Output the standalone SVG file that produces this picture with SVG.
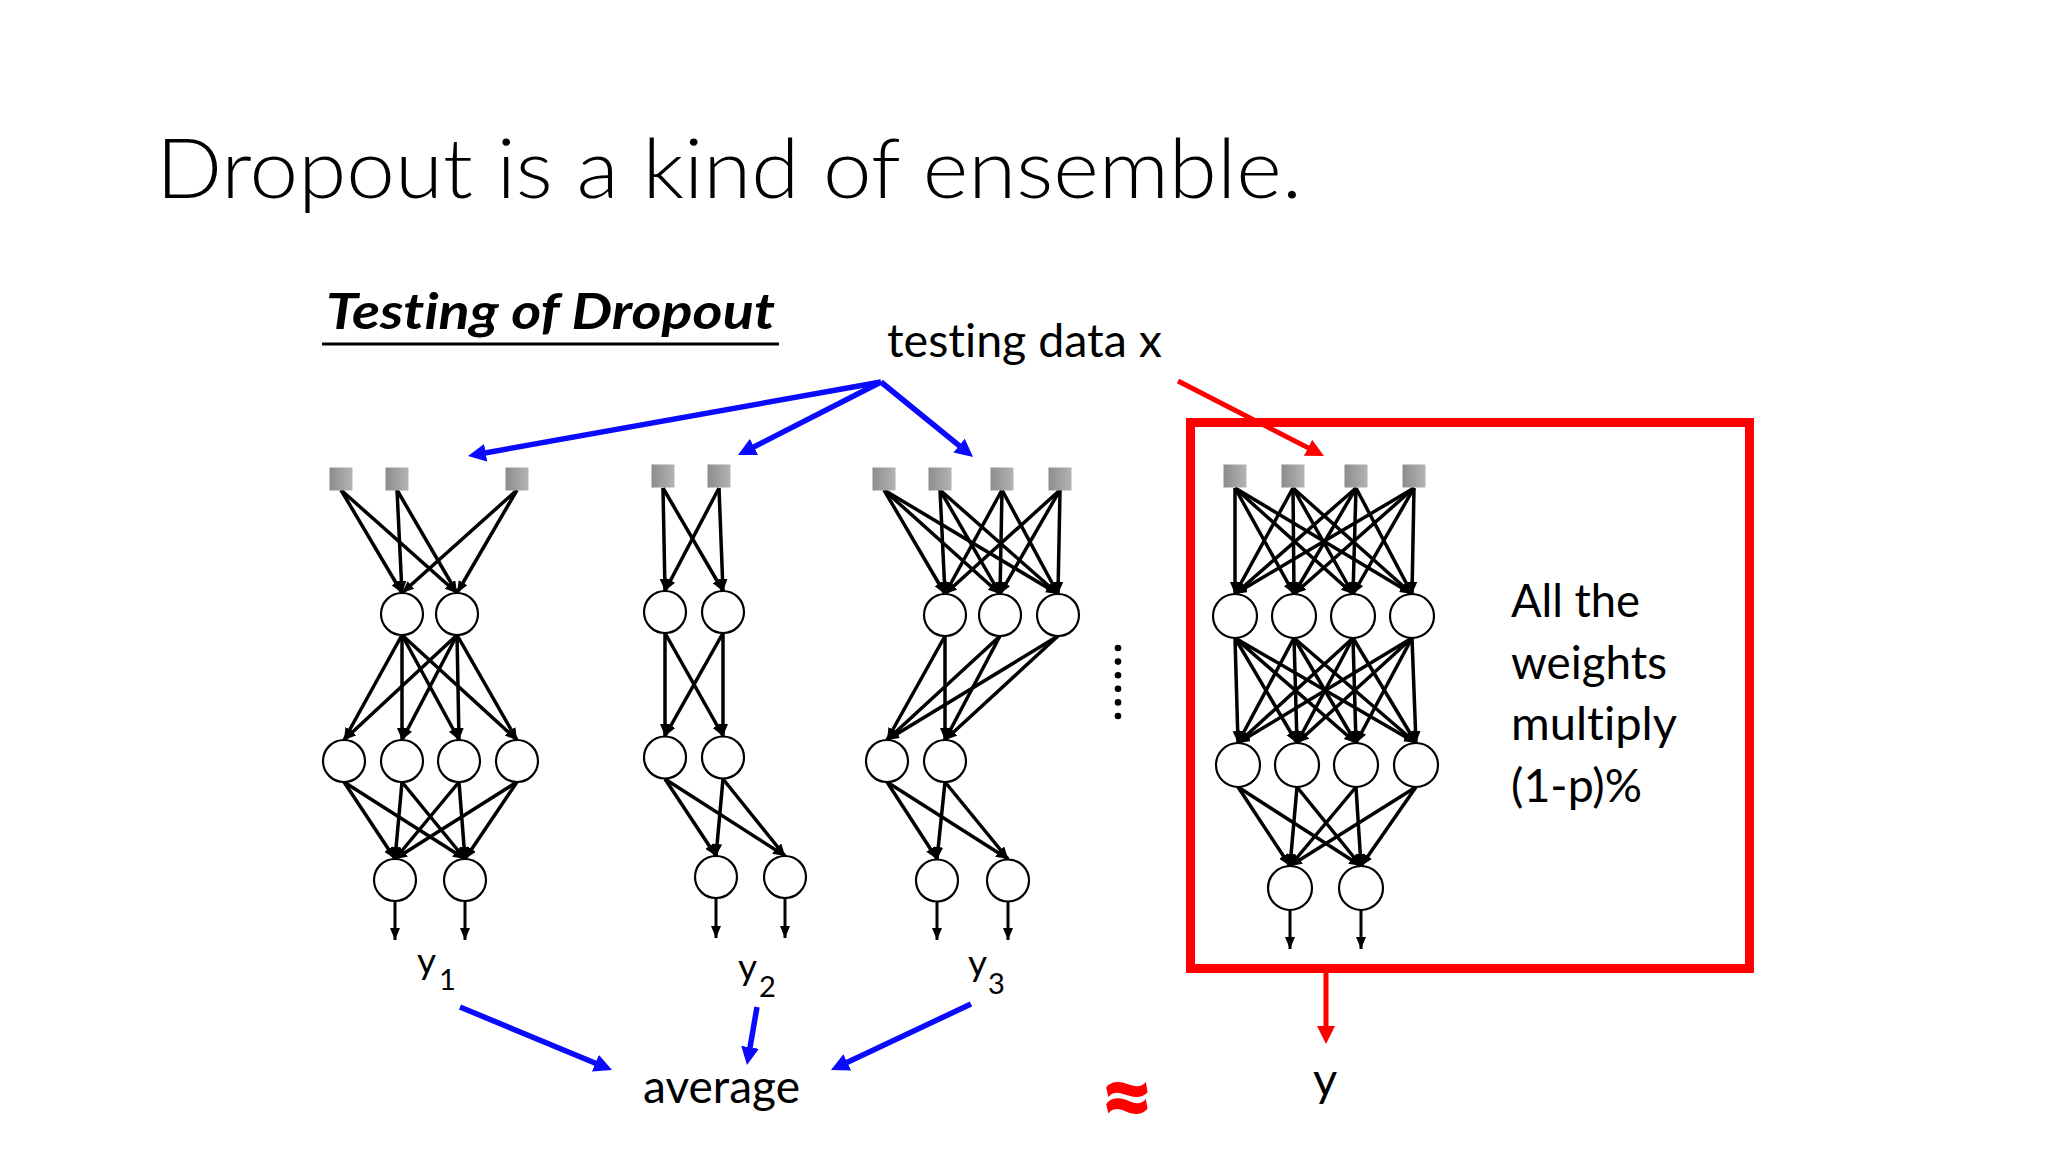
<svg xmlns="http://www.w3.org/2000/svg" width="2048" height="1152" viewBox="0 0 2048 1152">
<style>
  text { font-family: "Lato", "Open Sans", sans-serif; fill: #000; font-variant-ligatures: none; font-feature-settings: "liga" 0, "clig" 0; }
  .title { font-size: 82px; font-weight: 300; }
  .sub { font-size: 50px; font-weight: 700; font-style: italic; }
  .lbl { font-size: 47px; }
  .yl { font-size: 37px; }
  .ys { font-size: 29px; }
  .nn { fill: #fff; stroke: #000; stroke-width: 2.2; }
  .sq { fill: url(#gsq); }
  .e line { stroke: #000; stroke-width: 3.5; marker-end: url(#ah); }
  .o line { stroke: #000; stroke-width: 3; marker-end: url(#ah); }
  .blue { stroke: #0a0aff; stroke-width: 5.5; marker-end: url(#ab); }
  .red { stroke: #ff0000; stroke-width: 5; marker-end: url(#ar); }
</style>
<defs>
  <linearGradient id="gsq" x1="0" y1="0" x2="1" y2="0">
    <stop offset="0" stop-color="#8c8c8c"/>
    <stop offset="1" stop-color="#b4b4b4"/>
  </linearGradient>
  <marker id="ah" markerUnits="userSpaceOnUse" markerWidth="13" markerHeight="11" refX="12" refY="5" orient="auto">
    <path d="M0,0L12,5L0,10z" fill="#000"/>
  </marker>
  <marker id="ab" markerUnits="userSpaceOnUse" markerWidth="19" markerHeight="19" refX="8" refY="9" orient="auto">
    <path d="M0,0L18,9L0,18z" fill="#0a0aff"/>
  </marker>
  <marker id="ar" markerUnits="userSpaceOnUse" markerWidth="19" markerHeight="19" refX="8" refY="9" orient="auto">
    <path d="M0,0L18,9L0,18z" fill="#ff0000"/>
  </marker>
</defs>
<rect width="2048" height="1152" fill="#fff"/>

<g id="title"><text class="title" x="156" y="198" textLength="1146" lengthAdjust="spacingAndGlyphs">Dropout is a kind of ensemble.</text></g>
<g id="subtitle">
  <text class="sub" x="326" y="329" textLength="449" lengthAdjust="spacingAndGlyphs">Testing of Dropout</text>
  <line x1="322" y1="344" x2="779" y2="344" stroke="#000" stroke-width="3"/>
</g>
<g id="testing-data"><text class="lbl" x="887" y="357" textLength="275" lengthAdjust="spacingAndGlyphs">testing data x</text></g>

<!-- red box -->
<g id="full-net-box"><rect x="1190.5" y="422.5" width="559" height="546" fill="none" stroke="#ff0000" stroke-width="9"/></g>

<g id="connectors">
  <!-- Net 1 -->
  <g class="e">
    <line x1="341" y1="490" x2="402" y2="593"/><line x1="341" y1="490" x2="457" y2="593"/>
    <line x1="397" y1="490" x2="402" y2="593"/><line x1="397" y1="490" x2="457" y2="593"/>
    <line x1="517" y1="490" x2="402" y2="593"/><line x1="517" y1="490" x2="457" y2="593"/>
    <line x1="402" y1="635" x2="344" y2="740"/><line x1="402" y1="635" x2="402" y2="740"/>
    <line x1="402" y1="635" x2="459" y2="740"/><line x1="402" y1="635" x2="517" y2="740"/>
    <line x1="457" y1="635" x2="344" y2="740"/><line x1="457" y1="635" x2="402" y2="740"/>
    <line x1="457" y1="635" x2="459" y2="740"/><line x1="457" y1="635" x2="517" y2="740"/>
    <line x1="344" y1="782" x2="395" y2="859"/><line x1="344" y1="782" x2="465" y2="859"/>
    <line x1="402" y1="782" x2="395" y2="859"/><line x1="402" y1="782" x2="465" y2="859"/>
    <line x1="459" y1="782" x2="395" y2="859"/><line x1="459" y1="782" x2="465" y2="859"/>
    <line x1="517" y1="782" x2="395" y2="859"/><line x1="517" y1="782" x2="465" y2="859"/>
  </g>
  <g class="o"><line x1="395" y1="901" x2="395" y2="940"/><line x1="465" y1="901" x2="465" y2="940"/></g>
  <!-- Net 2 -->
  <g class="e">
    <line x1="663" y1="488" x2="665" y2="591"/><line x1="663" y1="488" x2="723" y2="591"/>
    <line x1="719" y1="488" x2="665" y2="591"/><line x1="719" y1="488" x2="723" y2="591"/>
    <line x1="665" y1="633" x2="665" y2="736"/><line x1="665" y1="633" x2="723" y2="736"/>
    <line x1="723" y1="633" x2="665" y2="736"/><line x1="723" y1="633" x2="723" y2="736"/>
    <line x1="665" y1="779" x2="716" y2="856"/><line x1="665" y1="779" x2="785" y2="856"/>
    <line x1="723" y1="779" x2="716" y2="856"/><line x1="723" y1="779" x2="785" y2="856"/>
  </g>
  <g class="o"><line x1="716" y1="898" x2="716" y2="938"/><line x1="785" y1="898" x2="785" y2="938"/></g>
  <!-- Net 3 -->
  <g class="e">
    <line x1="884" y1="490" x2="945" y2="594"/><line x1="884" y1="490" x2="1000" y2="594"/><line x1="884" y1="490" x2="1058" y2="594"/>
    <line x1="940" y1="490" x2="945" y2="594"/><line x1="940" y1="490" x2="1000" y2="594"/><line x1="940" y1="490" x2="1058" y2="594"/>
    <line x1="1002" y1="490" x2="945" y2="594"/><line x1="1002" y1="490" x2="1000" y2="594"/><line x1="1002" y1="490" x2="1058" y2="594"/>
    <line x1="1060" y1="490" x2="945" y2="594"/><line x1="1060" y1="490" x2="1000" y2="594"/><line x1="1060" y1="490" x2="1058" y2="594"/>
    <line x1="945" y1="636" x2="887" y2="740"/><line x1="945" y1="636" x2="945" y2="740"/>
    <line x1="1000" y1="636" x2="887" y2="740"/><line x1="1000" y1="636" x2="945" y2="740"/>
    <line x1="1058" y1="636" x2="887" y2="740"/><line x1="1058" y1="636" x2="945" y2="740"/>
    <line x1="887" y1="782" x2="937" y2="859"/><line x1="887" y1="782" x2="1008" y2="859"/>
    <line x1="945" y1="782" x2="937" y2="859"/><line x1="945" y1="782" x2="1008" y2="859"/>
  </g>
  <g class="o"><line x1="937" y1="901" x2="937" y2="940"/><line x1="1008" y1="901" x2="1008" y2="940"/></g>
  <!-- Net 4 -->
  <g class="e">
    <line x1="1235" y1="488" x2="1235" y2="594"/><line x1="1235" y1="488" x2="1294" y2="594"/><line x1="1235" y1="488" x2="1353" y2="594"/><line x1="1235" y1="488" x2="1412" y2="594"/>
    <line x1="1293" y1="488" x2="1235" y2="594"/><line x1="1293" y1="488" x2="1294" y2="594"/><line x1="1293" y1="488" x2="1353" y2="594"/><line x1="1293" y1="488" x2="1412" y2="594"/>
    <line x1="1356" y1="488" x2="1235" y2="594"/><line x1="1356" y1="488" x2="1294" y2="594"/><line x1="1356" y1="488" x2="1353" y2="594"/><line x1="1356" y1="488" x2="1412" y2="594"/>
    <line x1="1414" y1="488" x2="1235" y2="594"/><line x1="1414" y1="488" x2="1294" y2="594"/><line x1="1414" y1="488" x2="1353" y2="594"/><line x1="1414" y1="488" x2="1412" y2="594"/>
    <line x1="1235" y1="638" x2="1238" y2="743"/><line x1="1235" y1="638" x2="1297" y2="743"/><line x1="1235" y1="638" x2="1356" y2="743"/><line x1="1235" y1="638" x2="1416" y2="743"/>
    <line x1="1294" y1="638" x2="1238" y2="743"/><line x1="1294" y1="638" x2="1297" y2="743"/><line x1="1294" y1="638" x2="1356" y2="743"/><line x1="1294" y1="638" x2="1416" y2="743"/>
    <line x1="1353" y1="638" x2="1238" y2="743"/><line x1="1353" y1="638" x2="1297" y2="743"/><line x1="1353" y1="638" x2="1356" y2="743"/><line x1="1353" y1="638" x2="1416" y2="743"/>
    <line x1="1412" y1="638" x2="1238" y2="743"/><line x1="1412" y1="638" x2="1297" y2="743"/><line x1="1412" y1="638" x2="1356" y2="743"/><line x1="1412" y1="638" x2="1416" y2="743"/>
    <line x1="1238" y1="787" x2="1290" y2="866"/><line x1="1238" y1="787" x2="1361" y2="866"/>
    <line x1="1297" y1="787" x2="1290" y2="866"/><line x1="1297" y1="787" x2="1361" y2="866"/>
    <line x1="1356" y1="787" x2="1290" y2="866"/><line x1="1356" y1="787" x2="1361" y2="866"/>
    <line x1="1416" y1="787" x2="1290" y2="866"/><line x1="1416" y1="787" x2="1361" y2="866"/>
  </g>
  <g class="o"><line x1="1290" y1="910" x2="1290" y2="949"/><line x1="1361" y1="910" x2="1361" y2="949"/></g>
  <!-- blue / red flow arrows -->
  <line class="blue" x1="881" y1="382" x2="477.8" y2="454.2"/>
  <line class="blue" x1="881" y1="382" x2="746.9" y2="450.5"/>
  <line class="blue" x1="881" y1="382" x2="965.3" y2="450.7"/>
  <line class="red" x1="1178" y1="381" x2="1315.1" y2="451.4"/>
  <line class="blue" x1="460" y1="1007" x2="602.8" y2="1066.2"/>
  <line class="blue" x1="757" y1="1007" x2="748.7" y2="1055.2"/>
  <line class="blue" x1="971" y1="1004" x2="840" y2="1065.7"/>
  <line class="red" x1="1326" y1="973" x2="1326" y2="1034"/>
</g>

<!-- Net 1 nodes -->
<g id="net1">
  <g id="n1-x1"><rect class="sq" x="329.5" y="467.5" width="23" height="23"/></g>
  <g id="n1-x2"><rect class="sq" x="385.5" y="467.5" width="23" height="23"/></g>
  <g id="n1-x3"><rect class="sq" x="505.5" y="467.5" width="23" height="23"/></g>
  <g id="n1-h1a"><circle class="nn" cx="402" cy="614" r="21"/></g>
  <g id="n1-h1b"><circle class="nn" cx="457" cy="614" r="21"/></g>
  <g id="n1-h2a"><circle class="nn" cx="344" cy="761" r="21"/></g>
  <g id="n1-h2b"><circle class="nn" cx="402" cy="761" r="21"/></g>
  <g id="n1-h2c"><circle class="nn" cx="459" cy="761" r="21"/></g>
  <g id="n1-h2d"><circle class="nn" cx="517" cy="761" r="21"/></g>
  <g id="n1-oa"><circle class="nn" cx="395" cy="880" r="21"/></g>
  <g id="n1-ob"><circle class="nn" cx="465" cy="880" r="21"/></g>
</g>
<!-- Net 2 nodes -->
<g id="net2">
  <g id="n2-x1"><rect class="sq" x="651.5" y="464.5" width="23" height="23"/></g>
  <g id="n2-x2"><rect class="sq" x="707.5" y="464.5" width="23" height="23"/></g>
  <g id="n2-h1a"><circle class="nn" cx="665" cy="612" r="21"/></g>
  <g id="n2-h1b"><circle class="nn" cx="723" cy="612" r="21"/></g>
  <g id="n2-h2a"><circle class="nn" cx="665" cy="757.5" r="21"/></g>
  <g id="n2-h2b"><circle class="nn" cx="723" cy="757.5" r="21"/></g>
  <g id="n2-oa"><circle class="nn" cx="716" cy="877" r="21"/></g>
  <g id="n2-ob"><circle class="nn" cx="785" cy="877" r="21"/></g>
</g>
<!-- Net 3 nodes -->
<g id="net3">
  <g id="n3-x1"><rect class="sq" x="872.5" y="467.5" width="23" height="23"/></g>
  <g id="n3-x2"><rect class="sq" x="928.5" y="467.5" width="23" height="23"/></g>
  <g id="n3-x3"><rect class="sq" x="990.5" y="467.5" width="23" height="23"/></g>
  <g id="n3-x4"><rect class="sq" x="1048.5" y="467.5" width="23" height="23"/></g>
  <g id="n3-h1a"><circle class="nn" cx="945" cy="615" r="21"/></g>
  <g id="n3-h1b"><circle class="nn" cx="1000" cy="615" r="21"/></g>
  <g id="n3-h1c"><circle class="nn" cx="1058" cy="615" r="21"/></g>
  <g id="n3-h2a"><circle class="nn" cx="887" cy="761" r="21"/></g>
  <g id="n3-h2b"><circle class="nn" cx="945" cy="761" r="21"/></g>
  <g id="n3-oa"><circle class="nn" cx="937" cy="880.5" r="21"/></g>
  <g id="n3-ob"><circle class="nn" cx="1008" cy="880.5" r="21"/></g>
</g>
<g id="more-dots" fill="#000">
  <circle cx="1118" cy="648" r="3.3"/><circle cx="1118" cy="661.6" r="3.3"/><circle cx="1118" cy="675.2" r="3.3"/>
  <circle cx="1118" cy="688.8" r="3.3"/><circle cx="1118" cy="702.4" r="3.3"/><circle cx="1118" cy="716" r="3.3"/>
</g>
<!-- Net 4 nodes -->
<g id="net4">
  <g id="n4-x1"><rect class="sq" x="1223.5" y="464.5" width="23" height="23"/></g>
  <g id="n4-x2"><rect class="sq" x="1281.5" y="464.5" width="23" height="23"/></g>
  <g id="n4-x3"><rect class="sq" x="1344.5" y="464.5" width="23" height="23"/></g>
  <g id="n4-x4"><rect class="sq" x="1402.5" y="464.5" width="23" height="23"/></g>
  <g id="n4-h1a"><circle class="nn" cx="1235" cy="616" r="22"/></g>
  <g id="n4-h1b"><circle class="nn" cx="1294" cy="616" r="22"/></g>
  <g id="n4-h1c"><circle class="nn" cx="1353" cy="616" r="22"/></g>
  <g id="n4-h1d"><circle class="nn" cx="1412" cy="616" r="22"/></g>
  <g id="n4-h2a"><circle class="nn" cx="1238" cy="765" r="22"/></g>
  <g id="n4-h2b"><circle class="nn" cx="1297" cy="765" r="22"/></g>
  <g id="n4-h2c"><circle class="nn" cx="1356" cy="765" r="22"/></g>
  <g id="n4-h2d"><circle class="nn" cx="1416" cy="765" r="22"/></g>
  <g id="n4-oa"><circle class="nn" cx="1290" cy="888" r="22"/></g>
  <g id="n4-ob"><circle class="nn" cx="1361" cy="888" r="22"/></g>
</g>

<g id="note">
  <text class="lbl" x="1511" y="617" textLength="129" lengthAdjust="spacingAndGlyphs">All the</text>
  <text class="lbl" x="1511" y="679" textLength="156" lengthAdjust="spacingAndGlyphs">weights</text>
  <text class="lbl" x="1511" y="740" textLength="166" lengthAdjust="spacingAndGlyphs">multiply</text>
  <text class="lbl" x="1511" y="802" textLength="131" lengthAdjust="spacingAndGlyphs">(1-p)%</text>
</g>

<g id="y1"><text class="yl" x="417" y="974">y<tspan class="ys" x="439" y="990">1</tspan></text></g>
<g id="y2"><text class="yl" x="738" y="980">y<tspan class="ys" x="759" y="997">2</tspan></text></g>
<g id="y3"><text class="yl" x="968" y="976">y<tspan class="ys" x="988" y="994">3</tspan></text></g>
<g id="average"><text class="lbl" x="643" y="1103" textLength="157" lengthAdjust="spacingAndGlyphs">average</text></g>
<g id="approx"><text x="1127" y="1130" font-size="93" font-weight="700" text-anchor="middle" style="fill:#ff0000;stroke:#ff0000;stroke-width:2">≈</text></g>
<g id="y-out"><text class="lbl" x="1313" y="1096">y</text></g>
</svg>
